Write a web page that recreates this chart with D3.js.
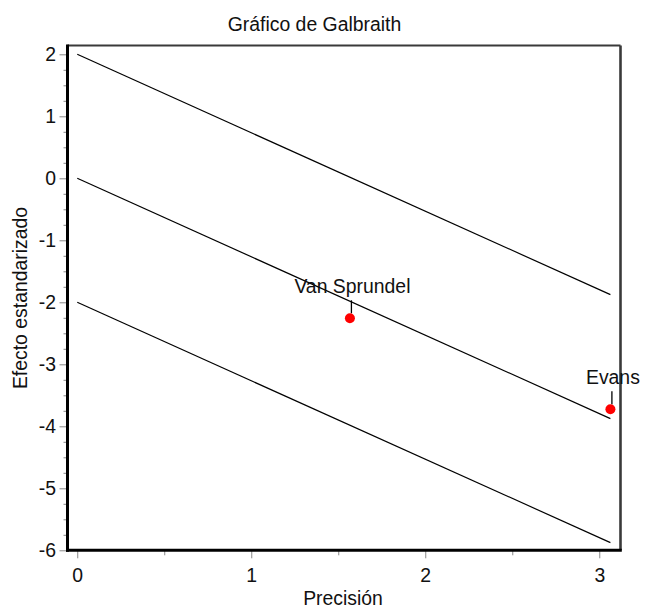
<!DOCTYPE html>
<html>
<head>
<meta charset="utf-8">
<script src="https://cdn.jsdelivr.net/npm/d3@7"></script>
<style>
  html, body { margin: 0; padding: 0; background: #fff; }
  svg { display: block; }
  text { font-family: Arial, "Liberation Sans", sans-serif; fill: #111; }
</style>
</head>
<body>
<svg id="chart" width="645" height="608"></svg>
<script>
// ---- data ----
const studies = ["Van Sprundel", "Evans"];
const precision = [1.567, 3.064];
const stdEffect = [-2.258, -3.726];
const pooledSlope = -1.265;
const bandOffsets = [2, 0, -2];
const xTicks = [0, 1, 2, 3];
const yTicks = [-6, -5, -4, -3, -2, -1, 0, 1, 2];
const xMinorTicks = [0.5, 1.5, 2.5];
const yMinorTicks = d3.range(-6, 2.01, 0.25).filter(v => Math.abs(v - Math.round(v)) > 1e-9);
const chartTitle = "Gráfico de Galbraith";
const xLabel = "Precisión";
const yLabel = "Efecto estandarizado";

// ---- layout ----
const mLeft = 67.5, mRight = 620.5, mTop = 45.5, mBottom = 550.3;
const svg = d3.select("#chart");
const x = d3.scaleLinear().domain([-0.056, 3.122]).range([mLeft, mRight]);
const y = d3.scaleLinear().domain([-6, 2.142]).range([mBottom, mTop]);
const fs = 19.4;
const ff = "Arial, 'Liberation Sans', sans-serif";
const fmt = d => String(d);

// minor ticks
svg.append("g").attr("transform", `translate(${mLeft},0)`)
  .call(d3.axisLeft(y).tickValues(yMinorTicks).tickSize(4).tickFormat(""))
  .call(g => g.select(".domain").remove())
  .call(g => g.selectAll("line").attr("stroke", "#888"));
svg.append("g").attr("transform", `translate(0,${mBottom})`)
  .call(d3.axisBottom(x).tickValues(xMinorTicks).tickSize(5).tickFormat(""))
  .call(g => g.select(".domain").remove())
  .call(g => g.selectAll("line").attr("stroke", "#888"));

// major axes
svg.append("g").attr("transform", `translate(${mLeft},0)`)
  .call(d3.axisLeft(y).tickValues(yTicks).tickSize(8).tickPadding(3.5).tickFormat(fmt))
  .call(g => g.select(".domain").remove())
  .call(g => g.selectAll("line").attr("stroke", "#888"))
  .call(g => g.selectAll("text").attr("font-size", fs).attr("font-family", ff).attr("fill", "#111"));
svg.append("g").attr("transform", `translate(0,${mBottom})`)
  .call(d3.axisBottom(x).tickValues(xTicks).tickSize(8).tickPadding(10).tickFormat(fmt))
  .call(g => g.select(".domain").remove())
  .call(g => g.selectAll("line").attr("stroke", "#888"))
  .call(g => g.selectAll("text").attr("font-size", fs).attr("font-family", ff).attr("fill", "#111"));

// frame
svg.append("line").attr("x1", mLeft).attr("x2", mRight).attr("y1", mTop).attr("y2", mTop)
  .attr("stroke", "#3a3a3a").attr("stroke-width", 2.2);
svg.append("line").attr("x1", mRight).attr("x2", mRight).attr("y1", mTop).attr("y2", mBottom)
  .attr("stroke", "#3a3a3a").attr("stroke-width", 2.6);
svg.append("line").attr("x1", mLeft).attr("x2", mLeft).attr("y1", mTop - 1).attr("y2", mBottom + 1.5)
  .attr("stroke", "#000").attr("stroke-width", 3);
svg.append("line").attr("x1", mLeft - 1.5).attr("x2", mRight + 1.3).attr("y1", mBottom).attr("y2", mBottom)
  .attr("stroke", "#000").attr("stroke-width", 3);

// regression band lines
const xMax = d3.max(precision);
svg.append("g").selectAll("line").data(bandOffsets).join("line")
  .attr("x1", x(0)).attr("y1", d => y(d))
  .attr("x2", x(xMax)).attr("y2", d => y(d + pooledSlope * xMax))
  .attr("stroke", "#000").attr("stroke-width", 1.2);

// points
const pts = studies.map((s, i) => ({ name: s, px: precision[i], py: stdEffect[i] }));
const pg = svg.append("g");
pg.selectAll("line.leader").data(pts).join("line").attr("class", "leader")
  .attr("x1", d => x(d.px) + 1.5).attr("x2", d => x(d.px) + 1.5)
  .attr("y1", d => y(d.py) - 5).attr("y2", d => y(d.py) - 18)
  .attr("stroke", "#000").attr("stroke-width", 1.3);
pg.selectAll("circle").data(pts).join("circle")
  .attr("cx", d => x(d.px)).attr("cy", d => y(d.py)).attr("r", 5)
  .attr("fill", "#ff0000");
pg.selectAll("text").data(pts).join("text")
  .attr("x", d => x(d.px) + 2.5).attr("y", d => y(d.py) - 25.5)
  .attr("text-anchor", "middle").attr("font-size", fs)
  .text(d => d.name);

// titles
svg.append("text").attr("x", 314.5).attr("y", 30.5).attr("text-anchor", "middle")
  .attr("font-size", fs).text(chartTitle);
svg.append("text").attr("x", (mLeft + mRight) / 2 - 1).attr("y", 604.5).attr("text-anchor", "middle")
  .attr("font-size", fs).text(xLabel);
svg.append("text").attr("transform", "translate(27,298) rotate(-90)").attr("text-anchor", "middle")
  .attr("font-size", fs).text(yLabel);
</script>
</body>
</html>
